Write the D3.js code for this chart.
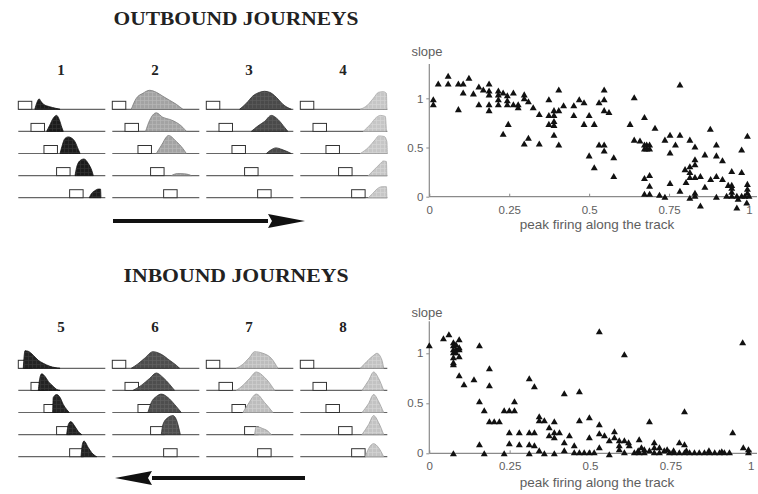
<!DOCTYPE html>
<html><head><meta charset="utf-8">
<script src="https://cdn.jsdelivr.net/npm/d3@7"></script>
<style>body{margin:0;background:#fff}</style>
</head><body>
<script>
// ---------------- DATA ----------------
const outboundTitle = "OUTBOUND JOURNEYS";
const inboundTitle = "INBOUND JOURNEYS";
const outboundLabels = ["1", "2", "3", "4"];
const inboundLabels = ["5", "6", "7", "8"];
const landmarkStart = [0, 0.146, 0.295, 0.44, 0.59];   // track position of the landmark box per row
const landmarkWidth = 0.155;

// firing-rate profiles: [track position, relative rate] per row
const cell1 = [
  [[0.19,0],[0.215,0.35],[0.24,0.52],[0.26,0.4],[0.29,0.25],[0.36,0.13],[0.43,0.05],[0.48,0]],
  [[0.326,0],[0.36,0.3],[0.4,0.65],[0.44,0.8],[0.47,0.6],[0.5,0.2],[0.517,0]],
  [[0.48,0],[0.5,0.33],[0.536,0.75],[0.575,0.83],[0.61,0.78],[0.65,0.6],[0.69,0.2],[0.71,0]],
  [[0.652,0],[0.67,0.4],[0.71,0.75],[0.755,0.83],[0.805,0.6],[0.845,0.25],[0.862,0]],
  [[0.816,0],[0.84,0.2],[0.88,0.35],[0.92,0.43],[0.945,0.43],[0.95,0]]
];
const cell2 = [
  [[0.218,0],[0.276,0.55],[0.352,0.8],[0.429,0.95],[0.506,0.85],[0.582,0.65],[0.659,0.45],[0.736,0.25],[0.811,0]],
  [[0.383,0],[0.429,0.55],[0.506,0.93],[0.582,0.7],[0.659,0.6],[0.736,0.45],[0.811,0.2],[0.851,0]],
  [[0.506,0],[0.563,0.4],[0.647,0.9],[0.736,0.6],[0.811,0.25],[0.851,0]],
  [[0.678,0],[0.75,0.1],[0.85,0.08],[0.908,0]],
  []
];
const cell3 = [
  [[0.383,0],[0.46,0.3],[0.536,0.67],[0.613,0.85],[0.67,0.9],[0.728,0.85],[0.805,0.6],[0.88,0.25],[0.977,0]],
  [[0.517,0],[0.593,0.27],[0.67,0.5],[0.747,0.8],[0.823,0.6],[0.9,0.2],[0.938,0]],
  [[0.69,0],[0.75,0.2],[0.8,0.28],[0.87,0.2],[0.977,0]],
  [],
  []
];
const cell4 = [
  [[0.69,0],[0.77,0.2],[0.84,0.55],[0.9,0.85],[0.954,0.88],[0.99,0.8],[0.995,0]],
  [[0.724,0],[0.805,0.35],[0.874,0.7],[0.92,0.8],[0.977,0.75],[0.99,0]],
  [[0.69,0],[0.782,0.3],[0.862,0.7],[0.9,0.88],[0.965,0.85],[0.995,0.6],[1,0]],
  [[0.782,0],[0.85,0.3],[0.92,0.6],[0.954,0.73],[0.99,0.7],[0.995,0]],
  [[0.782,0],[0.83,0.2],[0.885,0.45],[0.94,0.55],[0.99,0.55],[0.995,0]]
];
const cell5 = [
  [[0.057,0],[0.077,0.88],[0.115,0.85],[0.172,0.65],[0.23,0.4],[0.287,0.25],[0.364,0.1],[0.48,0]],
  [[0.23,0],[0.249,0.65],[0.269,0.83],[0.307,0.7],[0.345,0.45],[0.402,0.2],[0.441,0.05],[0.48,0]],
  [[0.395,0],[0.402,0.75],[0.441,0.9],[0.48,0.75],[0.517,0.4],[0.556,0.15],[0.586,0]],
  [[0.556,0],[0.575,0.5],[0.602,0.65],[0.652,0.4],[0.69,0.15],[0.729,0]],
  [[0.721,0],[0.736,0.6],[0.755,0.78],[0.805,0.45],[0.844,0.2],[0.901,0]]
];
const cell6 = [
  [[0.218,0],[0.294,0.22],[0.371,0.5],[0.467,0.83],[0.563,0.7],[0.659,0.4],[0.736,0.15],[0.774,0]],
  [[0.237,0],[0.333,0.25],[0.429,0.6],[0.506,0.87],[0.582,0.65],[0.659,0.3],[0.716,0]],
  [[0.409,0],[0.448,0.5],[0.506,0.8],[0.563,0.92],[0.639,0.75],[0.716,0.4],[0.793,0]],
  [[0.563,0],[0.582,0.5],[0.639,0.85],[0.697,0.95],[0.736,0.75],[0.782,0]],
  []
];
const cell7 = [
  [[0.345,0],[0.421,0.2],[0.498,0.55],[0.555,0.83],[0.651,0.75],[0.747,0.5],[0.823,0]],
  [[0.345,0],[0.421,0.25],[0.498,0.6],[0.575,0.92],[0.67,0.65],[0.747,0.25],[0.785,0]],
  [[0.421,0],[0.478,0.4],[0.575,0.92],[0.67,0.5],[0.766,0]],
  [[0.555,0],[0.575,0.4],[0.65,0.3],[0.7,0.2],[0.747,0]],
  []
];
const cell8 = [
  [[0.69,0],[0.767,0.35],[0.843,0.65],[0.881,0.75],[0.939,0.4],[0.958,0]],
  [[0.709,0],[0.785,0.5],[0.843,0.92],[0.9,0.6],[0.958,0]],
  [[0.709,0],[0.785,0.45],[0.843,0.9],[0.9,0.55],[0.958,0]],
  [[0.709,0],[0.785,0.5],[0.843,0.95],[0.9,0.6],[0.958,0]],
  [[0.747,0],[0.785,0.4],[0.843,0.65],[0.9,0.45],[0.958,0]]
];

// scatter: peak firing position vs slope
const outboundPeak = [0.0125,0.0125,0.028,0.059,0.059,0.091,0.091,0.106,0.106,0.124,0.138,0.155,0.155,0.169,0.187,0.187,0.187,0.187,0.187,0.216,0.216,0.216,0.216,0.231,0.231,0.244,0.244,0.244,0.247,0.263,0.263,0.278,0.278,0.297,0.297,0.297,0.31,0.31,0.325,0.344,0.344,0.374,0.374,0.374,0.39,0.39,0.39,0.39,0.39,0.405,0.405,0.405,0.42,0.452,0.452,0.469,0.484,0.484,0.5,0.5,0.516,0.516,0.531,0.531,0.547,0.547,0.547,0.547,0.547,0.562,0.577,0.577,0.628,0.641,0.641,0.659,0.673,0.673,0.673,0.68,0.68,0.689,0.689,0.673,0.689,0.689,0.673,0.689,0.706,0.72,0.737,0.737,0.753,0.753,0.753,0.784,0.784,0.784,0.77,0.815,0.831,0.831,0.815,0.831,0.815,0.8,0.803,0.815,0.831,0.831,0.831,0.815,0.848,0.862,0.862,0.879,0.898,0.898,0.88,0.898,0.898,0.917,0.917,0.935,0.946,0.946,0.946,0.93,0.946,0.962,0.977,0.977,0.977,0.987,0.995,0.995,0.995,0.995,1.0,0.993,0.966,0.848,0.962,0.946];
const outboundSlope = [0.98,0.93,1.14,1.22,1.14,1.14,0.88,1.14,1.05,1.2,1.04,1.11,0.93,1.08,1.14,1.07,1.03,0.93,0.87,1.07,1.03,0.98,0.93,1.05,0.63,1.02,0.97,0.93,0.73,1.05,0.93,0.93,0.9,1.03,0.99,0.53,0.96,0.59,0.9,0.83,0.53,0.98,0.82,0.73,0.87,0.82,0.76,0.72,0.62,1.08,0.87,0.52,0.92,0.92,0.82,0.98,0.95,0.73,0.41,0.82,0.73,0.29,0.95,0.52,1.08,0.98,0.87,0.52,0.46,0.85,0.39,0.2,0.73,1.0,0.57,0.56,0.8,0.52,0.48,0.52,0.48,0.52,0.48,0.18,0.21,0.1,0.02,0.02,0.69,0.01,0.57,-0.01,0.62,0.44,0.13,1.13,0.62,0.05,0.52,0.57,0.5,0.37,0.3,0.32,0.24,0.27,0.14,0.19,0.19,0.03,0.0,-0.02,0.2,0.42,0.09,0.68,0.52,0.41,0.17,0.2,-0.01,0.36,0.17,0.11,0.25,0.11,0.08,0.0,0.0,0.0,0.47,0.24,0.0,0.0,0.61,0.12,0.07,0.03,0.0,-0.07,-0.03,-0.1,-0.12,0.04];

const inboundPeak = [0,0.044,0.061,0.075,0.075,0.075,0.075,0.075,0.075,0.075,0.083,0.083,0.083,0.093,0.093,0.093,0.093,0.093,0.108,0.075,0.139,0.156,0.156,0.156,0.171,0.171,0.187,0.187,0.187,0.202,0.218,0.233,0.249,0.265,0.265,0.233,0.249,0.249,0.28,0.28,0.311,0.327,0.311,0.327,0.311,0.327,0.311,0.342,0.342,0.358,0.342,0.358,0.373,0.373,0.389,0.389,0.389,0.389,0.405,0.42,0.42,0.42,0.436,0.451,0.451,0.467,0.467,0.467,0.482,0.498,0.513,0.498,0.498,0.529,0.529,0.529,0.529,0.545,0.56,0.56,0.576,0.576,0.591,0.591,0.591,0.607,0.607,0.607,0.622,0.638,0.653,0.653,0.669,0.669,0.685,0.685,0.7,0.7,0.716,0.716,0.731,0.747,0.762,0.778,0.778,0.794,0.794,0.794,0.81,0.825,0.84,0.856,0.872,0.888,0.903,0.918,0.934,0.944,0.975,0.977,0.993,0.993,0.8,0.74,0.66,0.62,0.7,0.76,0.87,0.91,0.65];
const inboundSlope = [1.07,1.14,1.18,1.1,1.07,1.03,1.0,0.95,0.9,0.88,1.08,1.03,1.0,1.13,1.05,1.03,0.96,0.77,0.68,-0.01,0.73,1.07,0.51,0.08,0.42,-0.01,0.84,0.67,0.31,0.31,0.31,0.42,0.42,0.42,0.51,-0.01,0.2,0.09,0.2,0.08,0.74,0.66,0.2,0.2,0.08,0.07,-0.01,0.36,0.32,0.32,0.02,-0.01,0.17,0.25,0.2,0.15,0.31,-0.01,0.2,0.59,0.1,0.02,0.17,0.07,0.0,0.61,0.32,0.0,0.0,0.0,0.0,0.35,0.15,1.21,0.28,0.19,0.05,0.17,0.12,-0.02,0.21,0.15,0.12,0.07,0.03,0.98,0.12,0.0,0.07,0.0,0.13,0.0,0.03,0.0,0.31,0.02,0.1,0.0,0.05,0.0,0.02,0.0,0.0,0.1,0.0,0.41,0.08,0.0,0.0,0.0,0.0,0.0,0.0,0.0,0.0,0.0,0.0,0.2,1.1,0.05,0.03,0.0,0.02,0.03,0.05,0.1,0.05,0.02,0.02,0.01,0.02];

const xTickValues = [0, 0.25, 0.5, 0.75, 1];
const xTickLabels = ["0", "0.25", "0.5", "0.75", "1"];
const yTickValues = [0, 0.5, 1];
const yTickLabels = ["0", "0.5", "1"];
const yAxisTitle = "slope";
const xAxisTitle = "peak firing along the track";

// ---------------- DRAWING ----------------
const W = 758, H = 494;
const svg = d3.select("body").append("svg").attr("width", W).attr("height", H)
  .style("font-family", "'Liberation Sans', Arial, sans-serif");

const defs = svg.append("defs");
function hatch(id, base, line) {
  const p = defs.append("pattern").attr("id", id).attr("patternUnits", "userSpaceOnUse")
    .attr("width", 4).attr("height", 4);
  p.append("rect").attr("width", 4).attr("height", 4).attr("fill", base);
  p.append("path").attr("d", "M0,0.5H4M0.5,0V4").attr("stroke", line).attr("stroke-width", 0.7);
  return `url(#${id})`;
}
const outFills = [hatch("h1", "#1c1c1c", "#333"), hatch("h2", "#a3a3a3", "#b8b8b8"),
                  hatch("h3", "#4a4a4a", "#5c5c5c"), hatch("h4", "#c6c6c6", "#d6d6d6")];
const outStroke = ["#111", "#777", "#2a2a2a", "#a8a8a8"];
const inFills = [hatch("h5", "#232323", "#383838"), hatch("h6", "#4e4e4e", "#626262"),
                 hatch("h7", "#bdbdbd", "#d0d0d0"), hatch("h8", "#c3c3c3", "#d4d4d4")];
const inStroke = ["#111", "#303030", "#9a9a9a", "#a0a0a0"];

const colX = d3.scaleLinear().domain([0, 3]).range([18.3, 300.3]);
const trackLen = 87;
const rateH = d3.scaleLinear().domain([0, 1]).range([0, 20]);

function drawPanel(title, labels, cells, fills, strokes, cfg) {
  const g = svg.append("g");
  g.append("text").attr("x", cfg.titleX).attr("y", cfg.titleY).attr("text-anchor", "middle")
    .attr("font-family", "'Liberation Serif', 'DejaVu Serif', serif").attr("font-weight", "bold")
    .attr("font-size", 19).attr("fill", "#222")
    .attr("textLength", cfg.titleLen).attr("lengthAdjust", "spacingAndGlyphs").text(title);
  const rowY = d3.scaleLinear().domain([0, 4]).range([cfg.rowTop, cfg.rowTop + 88.4]);
  cells.forEach((rows, i) => {
    const x0 = colX(i);
    const xs = d3.scaleLinear().domain([0, 1]).range([x0, x0 + trackLen]);
    g.append("text").attr("x", xs(0.49)).attr("y", cfg.numY).attr("text-anchor", "middle")
      .attr("font-family", "'Liberation Serif', 'DejaVu Serif', serif").attr("font-weight", "bold")
      .attr("font-size", 15).attr("fill", "#222").text(labels[i]);
    rows.forEach((pts, r) => {
      const base = rowY(r);
      g.append("line").attr("x1", xs(0)).attr("x2", xs(1)).attr("y1", base).attr("y2", base)
        .attr("stroke", "#666").attr("stroke-width", 1.2);
      const b0 = xs(landmarkStart[r]), b1 = xs(landmarkStart[r] + landmarkWidth);
      g.append("rect").attr("x", b0).attr("y", base - 8).attr("width", b1 - b0).attr("height", 8)
        .attr("fill", "#fff").attr("stroke", "#333").attr("stroke-width", 1);
      if (pts.length) {
        const area = d3.area().x(d => xs(d[0])).y0(base).y1(d => base - rateH(d[1]))
          .curve(d3.curveMonotoneX);
        g.append("path").attr("d", area(pts)).attr("fill", fills[i])
          .attr("stroke", strokes[i]).attr("stroke-width", 0.8);
      }
    });
  });
  // arrow
  const a = cfg.arrow;
  const dir = a.dir;
  const tip = dir > 0 ? a.x2 : a.x1, tail = dir > 0 ? a.x1 : a.x2;
  const headBase = tip - dir * 37;
  g.append("line").attr("x1", tail).attr("x2", headBase).attr("y1", a.y).attr("y2", a.y)
    .attr("stroke", "#111").attr("stroke-width", 4);
  g.append("path").attr("d", `M${tip},${a.y} L${headBase},${a.y - 7} L${headBase + dir*4},${a.y} L${headBase},${a.y + 7} Z`)
    .attr("fill", "#111");
}

drawPanel(outboundTitle, outboundLabels, [cell1, cell2, cell3, cell4], outFills, outStroke,
  {titleX: 236, titleY: 25, titleLen: 245, numY: 75, rowTop: 109.3, arrow: {x1: 113, x2: 305, y: 221, dir: 1}});
drawPanel(inboundTitle, inboundLabels, [cell5, cell6, cell7, cell8], inFills, inStroke,
  {titleX: 236, titleY: 282, titleLen: 225, numY: 332, rowTop: 368.3, arrow: {x1: 115, x2: 305, y: 478, dir: -1}});

function drawScatter(peak, slope, cfg) {
  const g = svg.append("g");
  const x = d3.scaleLinear().domain([0, 1]).range([429.3, cfg.x1]);
  const y = d3.scaleLinear().domain([0, cfg.yMax]).range([cfg.y0, cfg.yTop]);
  const axisColor = "#8a8a8a", textColor = "#5e5e5e";
  g.append("line").attr("x1", x(0)).attr("x2", 757).attr("y1", y(0)).attr("y2", y(0))
    .attr("stroke", axisColor).attr("stroke-width", 1.2);
  g.append("line").attr("x1", x(0)).attr("x2", x(0)).attr("y1", y(0)).attr("y2", y(cfg.yMax))
    .attr("stroke", axisColor).attr("stroke-width", 1.2);
  const xa = g.append("g").attr("transform", `translate(0,${y(0)})`)
    .call(d3.axisBottom(x).tickValues(xTickValues).tickFormat((d, i) => xTickLabels[i]).tickSize(3).tickPadding(6));
  const ya = g.append("g").attr("transform", `translate(${x(0)},0)`)
    .call(d3.axisLeft(y).tickValues(yTickValues).tickFormat((d, i) => yTickLabels[i]).tickSize(3).tickPadding(3));
  [xa, ya].forEach(ax => {
    ax.select(".domain").remove();
    ax.selectAll("line").attr("stroke", axisColor);
    ax.selectAll("text").attr("fill", textColor).attr("font-size", 11.5)
      .attr("font-family", "'Liberation Sans', Arial, sans-serif");
  });
  xa.selectAll(".tick line").attr("y2", -3);
  g.append("text").attr("x", 427).attr("y", cfg.slopeY).attr("text-anchor", "middle")
    .attr("font-size", 13).attr("fill", textColor).text(yAxisTitle);
  g.append("text").attr("x", 597).attr("y", cfg.titleY).attr("text-anchor", "middle")
    .attr("font-size", 13.5).attr("fill", textColor).text(xAxisTitle);
  const sym = d3.symbol().type(d3.symbolTriangle).size(21);
  g.selectAll("path.pt").data(peak).join("path").attr("class", "pt")
    .attr("transform", (d, i) => `translate(${x(d)},${y(slope[i])})`)
    .attr("d", sym).attr("fill", "#111");
}

drawScatter(outboundPeak, outboundSlope, {x1: 749, y0: 196.7, yTop: 63.9, yMax: 1.35, slopeY: 56, titleY: 229});
drawScatter(inboundPeak, inboundSlope, {x1: 750.7, y0: 453.3, yTop: 321.3, yMax: 1.32, slopeY: 317, titleY: 487});
</script>
</body></html>
